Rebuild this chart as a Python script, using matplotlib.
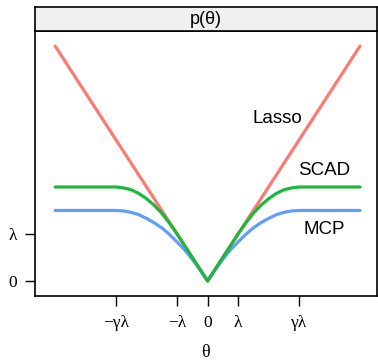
import matplotlib
matplotlib.use("Agg")
from matplotlib import pyplot as plt

# penalty curves (lambda = 1, gamma = 3)
theta = [-5, -3, -2.75, -2.5, -2.25, -2, -1.75, -1.5, -1.25, -1, -0.75, -0.5, -0.25,
         0, 0.25, 0.5, 0.75, 1, 1.25, 1.5, 1.75, 2, 2.25, 2.5, 2.75, 3, 5]
scad = [2.0, 2.0, 1.98, 1.94, 1.86, 1.75, 1.61, 1.44, 1.23, 1.0, 0.75, 0.5, 0.25,
        0, 0.25, 0.5, 0.75, 1.0, 1.23, 1.44, 1.61, 1.75, 1.86, 1.94, 1.98, 2.0, 2.0]
mcp = [1.5, 1.5, 1.49, 1.46, 1.41, 1.33, 1.24, 1.13, 0.99, 0.83, 0.66, 0.46, 0.24,
       0, 0.24, 0.46, 0.66, 0.83, 0.99, 1.13, 1.24, 1.33, 1.41, 1.46, 1.49, 1.5, 1.5]
lasso_theta = [-5, 0, 5]
lasso = [5, 0, 5]

x_ticks = [-3, -1, 0, 1, 3]
x_labels = ["\u2212\u03b3\u03bb", "\u2212\u03bb", "0", "\u03bb", "\u03b3\u03bb"]
y_ticks = [0, 1]
y_labels = ["0", "\u03bb"]

serif = ["Liberation Serif", "DejaVu Serif"]
sans = ["Liberation Sans", "DejaVu Sans"]

fig = plt.figure(figsize=(3.78, 3.61), dpi=100)
W, H = 378, 361

def box(x0, y0, x1, y1):
    return [x0 / W, 1 - y1 / H, (x1 - x0) / W, (y1 - y0) / H]

ax = fig.add_axes(box(35, 31, 376.5, 296))
strip = fig.add_axes(box(35, 7, 376.5, 31))

lw = 2.3
ax.plot(lasso_theta, lasso, color="#FA7B74", lw=lw, solid_capstyle="round")
ax.plot(theta, mcp, color="#619CFF", lw=lw, solid_capstyle="round")
ax.plot(theta, scad, color="#1DB83A", lw=lw, solid_capstyle="round")

ax.set_xlim(-5.66, 5.54)
ax.set_ylim(-0.32, 5.32)
ax.set_xticks(x_ticks)
ax.set_xticklabels(x_labels, family=serif, fontsize=12.5)
ax.set_yticks(y_ticks)
ax.set_yticklabels(y_labels, family=serif, fontsize=12.5)
ax.tick_params(axis="x", direction="out", length=7, width=1, pad=7, top=False)
ax.tick_params(axis="y", direction="out", length=7, width=1, pad=6, right=False)
ax.set_xlabel("\u03b8", family=serif, fontsize=13, labelpad=9)
for s in ax.spines.values():
    s.set_linewidth(1.2)

ax.text(2.3, 3.45, "Lasso", family=sans, fontsize=13.5, ha="center", va="center")
ax.text(3.83, 2.36, "SCAD", family=sans, fontsize=13.5, ha="center", va="center")
ax.text(3.83, 1.09, "MCP", family=sans, fontsize=13.5, ha="center", va="center")

strip.set_facecolor("#F0F0F0")
strip.set_xticks([])
strip.set_yticks([])
for s in strip.spines.values():
    s.set_linewidth(1.2)
strip.text(0.5, 0.5, "p(\u03b8)", family=sans, fontsize=13, ha="center", va="center",
           transform=strip.transAxes)

fig.savefig("out.png", dpi=100)
